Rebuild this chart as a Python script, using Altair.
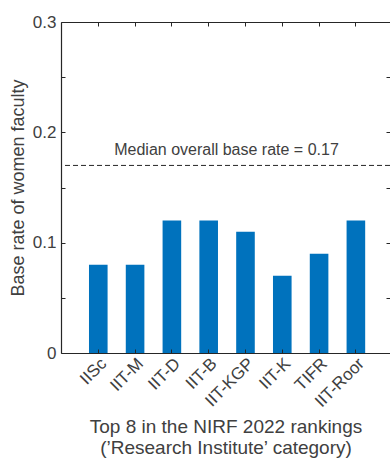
import altair as alt
import pandas as pd

# Top 8 institutes (NIRF 2022, 'Research Institute' category) and their base rates
institutes = ["IISc", "IIT-M", "IIT-D", "IIT-B", "IIT-KGP", "IIT-K", "TIFR", "IIT-Roor"]
base_rate = [0.08, 0.08, 0.12, 0.12, 0.11, 0.07, 0.09, 0.12]
median_rate = [0.17]
median_text = ["Median overall base rate = 0.17"]
y_label_values = [0, 0.1, 0.2, 0.3]
y_tick_values = [0, 0.05, 0.1, 0.15, 0.2, 0.25, 0.3]

df = pd.DataFrame({"institute": institutes, "rate": base_rate})
df_median = pd.DataFrame({"rate": median_rate, "label": median_text})

W, H = 329, 331
FONT = "Liberation Sans"
TEXT = "#404040"
LINE = "#262626"
BLUE = "#0072BD"

x_scale = alt.Scale(paddingInner=0.4946, paddingOuter=0.7175, align=0.53, round=False)
y_scale = alt.Scale(domain=[0, 0.3], nice=False)


def xenc(axis):
    return alt.X("institute:N", sort=institutes, scale=x_scale, axis=axis)


def yenc(axis):
    return alt.Y("rate:Q", scale=y_scale, axis=axis)


def tick_axis(orient, values=None, zindex=0):
    kw = dict(orient=orient, domain=False, labels=False, ticks=True, tickSize=4,
              offset=-4, tickColor=LINE, tickWidth=1, title=None, grid=False,
              zindex=zindex)
    if values is not None:
        kw["values"] = values
    return alt.Axis(**kw)


# main bars with the labelled bottom and left axes
bars = alt.Chart(df).mark_bar(color=BLUE, size=18.6).encode(
    x=xenc(alt.Axis(orient="bottom", title=["Top 8 in the NIRF 2022 rankings",
                                            "(\u2019Research Institute\u2019 category)"],
                    labelAngle=-45, labelAlign="right", labelBaseline="top",
                    labelPadding=2, labelFontSize=17, labelColor=TEXT, labelFont=FONT,
                    titleFontSize=19, titleFont=FONT, titleColor=TEXT,
                    titleFontWeight="normal", titlePadding=8, titleLineHeight=21,
                    ticks=False, domainColor=LINE, domainWidth=1.2, grid=False)),
    y=yenc(alt.Axis(orient="left", values=y_label_values, format="~g", ticks=False,
                    labelFontSize=17, labelColor=TEXT, labelFont=FONT, labelPadding=5,
                    title="Base rate of women faculty", titleFontSize=18, titleFont=FONT,
                    titleColor=TEXT, titleFontWeight="normal", titlePadding=5,
                    domainColor=LINE, domainWidth=1.2, grid=False)),
)

# inward ticks on top and right edges
ticks_tr = alt.Chart(df).mark_bar(opacity=0, size=18.6).encode(
    x=xenc(tick_axis("top")),
    y=yenc(tick_axis("right", y_tick_values)),
)

# inward ticks on bottom and left edges, drawn above the bars
ticks_bl = alt.Chart(df).mark_bar(opacity=0, size=18.6).encode(
    x=xenc(tick_axis("bottom", zindex=1)),
    y=yenc(tick_axis("left", y_tick_values, zindex=1)),
)

# top frame line
frame_top = alt.Chart(df).mark_bar(opacity=0, size=18.6).encode(
    x=xenc(alt.Axis(orient="top", domain=True, domainColor=LINE, domainWidth=1.2,
                    ticks=False, labels=False, title=None, grid=False)),
    y=yenc(None),
)

median_line = alt.Chart(df_median).mark_rule(color=LINE, strokeWidth=1, strokeDash=[5, 3]).encode(
    y=yenc(None)
)

median_label = alt.Chart(df_median).mark_text(
    font=FONT, fontSize=16, color=TEXT, align="center", baseline="alphabetic", dy=-10
).encode(
    x=alt.value(165.5),
    y=yenc(None),
    text="label:N",
)

chart = alt.layer(
    bars, ticks_tr, ticks_bl, frame_top, median_line, median_label
).resolve_axis(
    x="independent", y="independent"
).properties(
    width=W, height=H,
    autosize=alt.AutoSizeParams(type="none"),
    padding={"left": 61, "top": 22, "right": 0, "bottom": 110},
).configure_view(stroke=None).configure(background="white")

chart.save("out.html", embed_options={"renderer": "svg", "actions": False})
